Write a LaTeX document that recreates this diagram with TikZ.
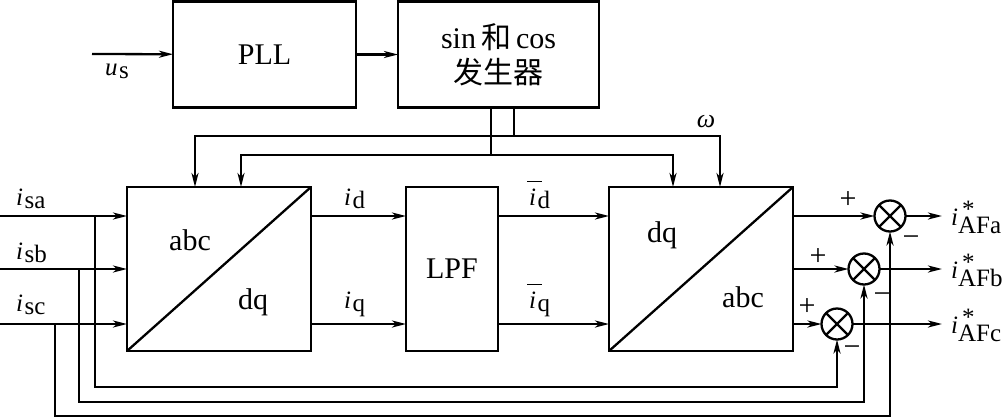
\documentclass[tikz,border=0pt]{standalone}
\usepackage{fontspec}
\setmainfont{Liberation Serif}
\newfontfamily\cjk{Noto Sans CJK SC}
\usetikzlibrary{arrows.meta,calc}
\newcommand{\sig}[2]{\textit{#1}\hspace{1.5pt}\raisebox{-3pt}{#2}}
\newcommand{\bsig}[2]{\rlap{\raisebox{23pt}{\rule{15pt}{1.4pt}}}\hspace{2pt}\textit{#1}\hspace{1.5pt}\raisebox{-3pt}{#2}}
\begin{document}
\begin{tikzpicture}[x=1pt,y=-1pt, line width=2.3pt,
  blk/.style={draw, rectangle, inner sep=0pt, outer sep=0pt, font=\fontsize{30}{37}\selectfont},
  sumc/.style={draw, circle, minimum size=31pt, inner sep=0pt, outer sep=0pt},
  arr/.style={-{Stealth[length=14pt,width=7pt,inset=4pt]}},
  lbl/.style={inner sep=0pt, font=\fontsize{25}{27}\selectfont},
  big/.style={inner sep=0pt, font=\fontsize{30}{32}\selectfont},
  sgn/.style={inner sep=0pt, font=\fontsize{30}{30}\selectfont}]
\useasboundingbox (0,0) rectangle (1003,418);

% blocks
\node[blk, minimum width=183pt, minimum height=106pt] (pll) at (264.5,54.5) {PLL};
\node[blk, minimum width=201pt, minimum height=106pt, align=center] (gen) at (498.5,54.5) {sin\,{\cjk 和}\,cos\\[-2pt]{\cjk 发生器}};
\node[blk, minimum width=184pt, minimum height=164pt] (t1) at (219,269) {};
\node[blk, minimum width=92pt, minimum height=164pt] (lpf) at (452,269) {LPF};
\node[blk, minimum width=184pt, minimum height=164pt] (t2) at (701,269) {};
\draw (t1.south west) -- (t1.north east);
\draw (t2.south west) -- (t2.north east);
\node[big] (t1a) at ($(t1)+(-29,-29)$) {abc};
\node[big] (t1b) at ($(t1)+(34,33)$) {dq};
\node[big] (t2a) at ($(t2)+(-39,-34)$) {dq};
\node[big] (t2b) at ($(t2)+(42,28)$) {abc};

% summing junctions
\node[sumc] (s1) at (890,216) {};
\node[sumc] (s2) at (864,269) {};
\node[sumc] (s3) at (837,324) {};
\foreach \s in {s1,s2,s3}{\draw (\s.45) -- (\s.225) (\s.135) -- (\s.315);}

% top part
\coordinate (us) at (92,54);
\draw[arr] (us) -- (pll);
\draw[arr] (pll) -- (gen);
\node[lbl, anchor=base west] (uslbl) at (104,75) {\sig{u}{s}};
\coordinate (w1) at (491,155);
\coordinate (w2) at (514,136);
\draw (gen.south -| w1) -- (w1);
\draw (gen.south -| w2) -- (w2);
\draw[arr] (w2) -| ($(t1.north west)+(68,0)$);
\draw[arr] (w2) -| ($(t2.north west)+(111,0)$);
\draw[arr] (w1) -| ($(t1.north west)+(114,0)$);
\draw[arr] (w1) -| ($(t2.north west)+(64,0)$);
\node[lbl, font=\fontsize{26}{26}\selectfont] (om) at (706,122) {\textit{ω}};

% inputs
\coordinate (ina) at (0,216);
\coordinate (inb) at (0,269);
\coordinate (inc) at (0,324);
\draw[arr] (ina) -- (ina -| t1.west);
\draw[arr] (inb) -- (inb -| t1.west);
\draw[arr] (inc) -- (inc -| t1.west);
\node[lbl, anchor=base west] (la) at (15,205) {\sig{i}{sa}};
\node[lbl, anchor=base west] (lb) at (15,259) {\sig{i}{sb}};
\node[lbl, anchor=base west] (lc) at (15,311) {\sig{i}{sc}};

% feedback buses
\coordinate (ba) at (95,216);
\coordinate (bb) at (79,269);
\coordinate (bc) at (55,324);
\coordinate (ya) at (0,387);
\coordinate (yb) at (0,402);
\coordinate (yc) at (0,416);
\draw[arr] (ba) |- (ya -| s3.south) -- (s3.south);
\draw[arr] (bb) |- (yb -| s2.south) -- (s2.south);
\draw[arr] (bc) |- (yc -| s1.south) -- (s1.south);

% middle signals
\draw[arr] (t1.east |- ina) -- (lpf.west |- ina);
\draw[arr] (t1.east |- inc) -- (lpf.west |- inc);
\draw[arr] (lpf.east |- ina) -- (t2.west |- ina);
\draw[arr] (lpf.east |- inc) -- (t2.west |- inc);
\node[lbl, anchor=base west] (id) at (343,205) {\sig{i}{d}};
\node[lbl, anchor=base west] (iq) at (343,308) {\sig{i}{q}};
\node[lbl, anchor=base west] (idb) at (526,205) {\bsig{i}{d}};
\node[lbl, anchor=base west] (iqb) at (526,308) {\bsig{i}{q}};

% outputs
\draw[arr] (t2.east |- s1) -- (s1);
\draw[arr] (t2.east |- s2) -- (s2);
\draw[arr] (t2.east |- s3) -- (s3);
\coordinate (ox) at (942,0);
\draw[arr] (s1) -- (s1 -| ox);
\draw[arr] (s2) -- (s2 -| ox);
\draw[arr] (s3) -- (s3 -| ox);
\foreach \s/\n/\t in {s1/a/AFa, s2/b/AFb, s3/c/AFc}{
  \node[lbl, anchor=base west] (oi\n) at ($(\s -| ox)+(8,9)$) {\textit{i}};
  \node[lbl, anchor=base west, font=\fontsize{25}{25}\selectfont] (os\n) at ($(\s -| ox)+(19,1)$) {*};
  \node[lbl, anchor=base west, font=\fontsize{25}{25}\selectfont] (ot\n) at ($(\s -| ox)+(15,17)$) {\t};
}

% signs
\node[sgn] (p1) at (848,200) {+};
\node[sgn] (p2) at (818,257) {+};
\node[sgn] (p3) at (807,307) {+};
\node[sgn] (m1) at (911,241) {−};
\node[sgn] (m2) at (882,298) {−};
\node[sgn] (m3) at (852,351) {−};
\end{tikzpicture}
\end{document}
